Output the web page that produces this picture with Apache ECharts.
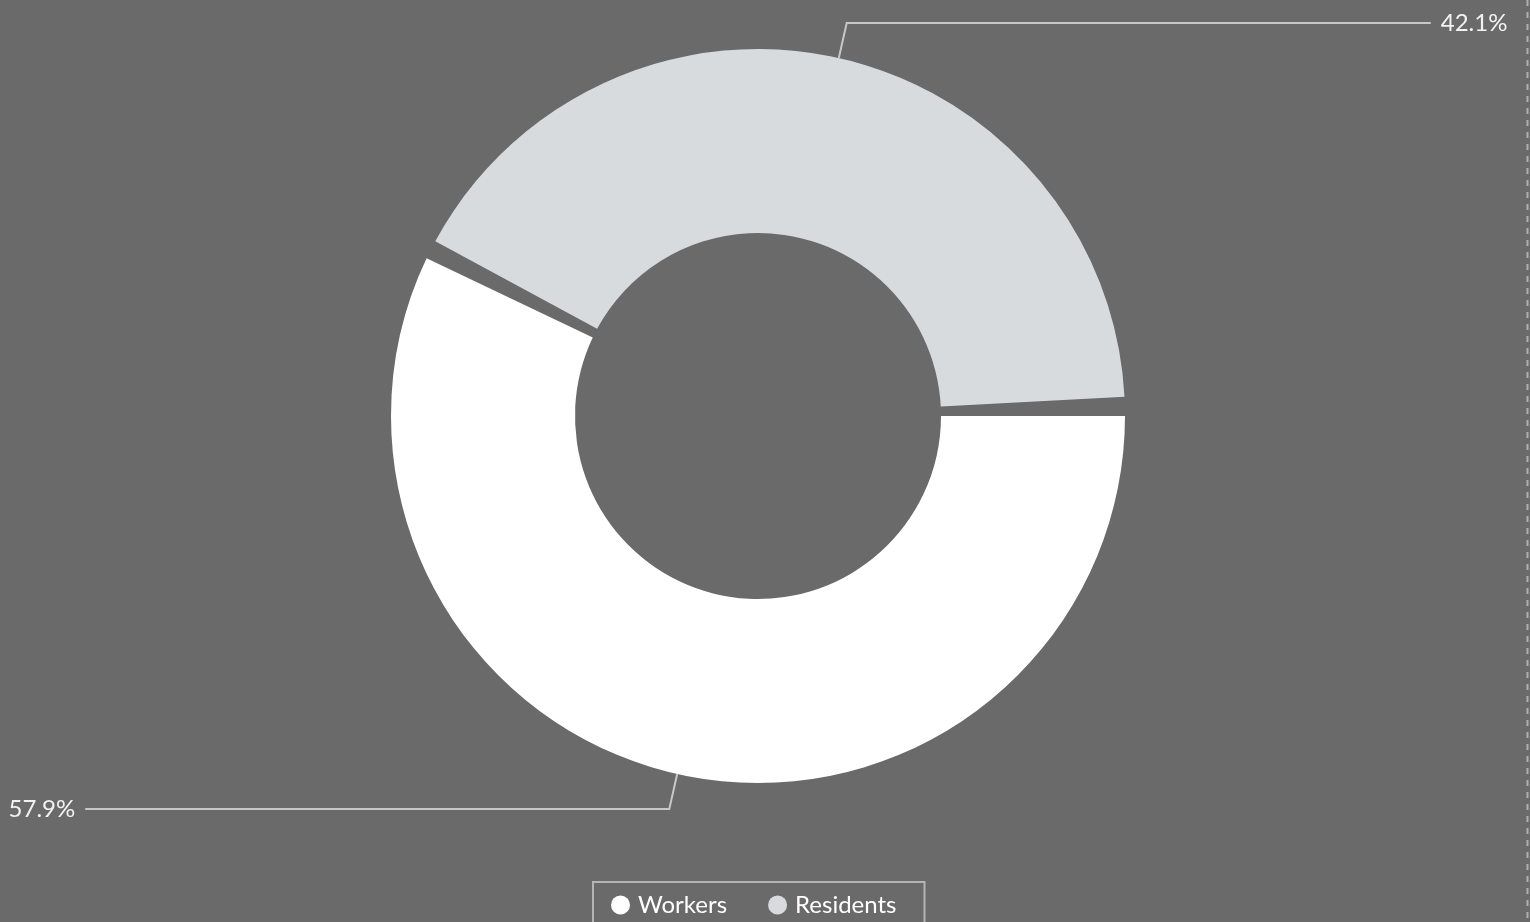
<!DOCTYPE html>
<html>
<head>
<meta charset="utf-8">
<script src="https://cdn.jsdelivr.net/npm/echarts@6/dist/echarts.min.js"></script>
<style>
  html, body { margin: 0; padding: 0; background: #6a6a6a; }
  #main { width: 1530px; height: 922px; }
</style>
</head>
<body>
<div id="main"></div>
<script>
var categories = ['Workers', 'Residents'];
var shares = [57.9, 42.1];
var colors = ['#ffffff', '#d8dbde'];

var myChart = echarts.init(document.getElementById('main'));

var option = {
    backgroundColor: '#6a6a6a',
    textStyle: { fontFamily: 'Lato' },
    legend: {
        top: 882,
        left: 593,
        data: categories,
        icon: 'circle',
        itemWidth: 19,
        itemHeight: 19,
        itemGap: 41,
        padding: [11, 28, 12, 18],
        borderColor: '#b4b4b4',
        borderWidth: 2,
        textStyle: {
            color: '#ffffff',
            fontSize: 24,
            fontFamily: 'Lato',
            padding: [0, 0, 0, 3]
        }
    },
    graphic: [{
        type: 'line',
        shape: { x1: 1527.5, y1: 0, x2: 1527.5, y2: 922 },
        style: { stroke: '#b0b0b0', lineWidth: 2, lineDash: [6, 6] },
        silent: true
    }],
    series: [{
        name: 'Share',
        type: 'pie',
        center: [758, 416],
        radius: [183, 367],
        startAngle: 1.5,
        clockwise: true,
        padAngle: 3,
        avoidLabelOverlap: false,
        label: {
            show: true,
            formatter: function (p) { return p.value.toFixed(1) + '%'; },
            color: '#f2f2f2',
            fontSize: 24,
            fontFamily: 'Lato',
            distanceToLabelLine: 10
        },
        labelLine: {
            show: true,
            length: 36,
            length2: 584,
            lineStyle: { color: '#c8c8c8', width: 2 }
        },
        emphasis: { disabled: true },
        data: categories.map(function (c, i) {
            return { name: c, value: shares[i], itemStyle: { color: colors[i] } };
        })
    }]
};

myChart.setOption(option);
</script>
</body>
</html>
